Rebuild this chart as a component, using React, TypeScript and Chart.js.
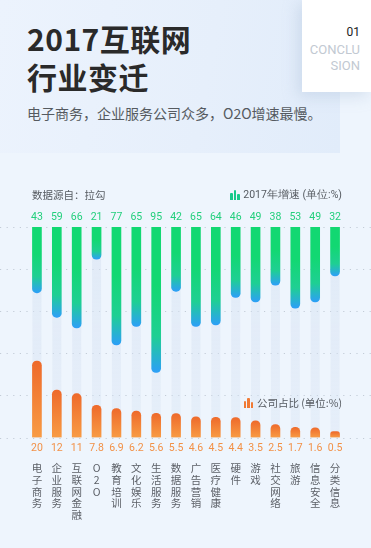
import React, { useEffect, useRef } from 'react';
import { Chart, registerables } from 'chart.js';

Chart.register(...registerables);

// ---------- data ----------
const categories = [
  '电子商务', '企业服务', '互联网金融', 'O2O', '教育培训', '文化娱乐', '生活服务', '数据服务',
  '广告营销', '医疗健康', '硬件', '游戏', '社交网络', '旅游', '信息安全', '分类信息',
];
const growth2017 = [43, 59, 66, 21, 77, 65, 95, 42, 65, 64, 46, 49, 38, 53, 49, 32];
const companyShare = [20, 12, 11, 7.8, 6.9, 6.2, 5.6, 5.5, 4.6, 4.5, 4.4, 3.5, 2.5, 1.7, 1.6, 0.5];

const titleLines = ['2017互联网', '行业变迁'];
const subtitle = '电子商务，企业服务公司众多，O2O增速最慢。';
const sourceText = '数据源自：拉勾';
const growthLegend = '2017年增速 (单位:%)';
const shareLegend = '公司占比 (单位:%)';

// ---------- styles ----------
const GREEN_TOP = '#12d872';
const GREEN_MID = '#1fcf93';
const BLUE_END = '#2d9ff7';
const ORANGE_TOP = '#ee6a2b';
const ORANGE_BOTTOM = '#f89b44';
const CJK = '"Noto Sans CJK SC", "Noto Sans", sans-serif';
const NUM = 'Roboto, "Noto Sans", sans-serif';

const backdropPlugin = {
  id: 'backdrop',
  beforeDatasetsDraw(chart: any) {
    const { ctx, chartArea } = chart;
    const x = chart.scales.x;
    const h = chartArea.bottom - chartArea.top;
    ctx.save();
    // dotted grid lines across full width
    ctx.strokeStyle = '#c3ccd7';
    ctx.lineWidth = 1;
    ctx.setLineDash([1.2, 5.4]);
    for (let i = 0; i <= 5; i++) {
      const y = Math.round(chartArea.top + (i * h) / 5) + 0.5;
      ctx.beginPath();
      ctx.moveTo(0, y);
      ctx.lineTo(chart.width, y);
      ctx.stroke();
    }
    ctx.setLineDash([]);
    // pale tracks
    for (let i = 0; i < categories.length; i++) {
      const cx = x.getPixelForValue(i);
      const g = ctx.createLinearGradient(0, chartArea.top, 0, chartArea.bottom);
      g.addColorStop(0, 'rgba(214,226,242,0.55)');
      g.addColorStop(1, 'rgba(214,226,242,0.35)');
      ctx.fillStyle = g;
      ctx.fillRect(cx - 4.5, chartArea.top, 9, h);
    }
    ctx.restore();
  },
};

const valueLabelPlugin = {
  id: 'valueLabels',
  afterDatasetsDraw(chart: any) {
    const { ctx, chartArea } = chart;
    const x = chart.scales.x;
    ctx.save();
    ctx.font = `10.5px ${NUM}`;
    ctx.textAlign = 'center';
    ctx.textBaseline = 'middle';
    growth2017.forEach((v, i) => {
      ctx.fillStyle = '#22cf7c';
      ctx.fillText(String(v), x.getPixelForValue(i), chartArea.top - 9.5);
    });
    companyShare.forEach((v, i) => {
      ctx.fillStyle = '#f29147';
      ctx.fillText(String(v), x.getPixelForValue(i), chartArea.bottom + 10.5);
    });
    ctx.restore();
  },
};

function LegendIcon({ color }: { color: string }) {
  const bar = (h: number) => (
    <span style={{ display: 'inline-block', width: 2.6, height: h, background: color, marginRight: 0.8, borderRadius: '1px 1px 0 0' }} />
  );
  return (
    <span style={{ display: 'inline-flex', alignItems: 'flex-end', height: 10, marginRight: 3 }}>
      {bar(7)}
      {bar(10)}
      {bar(6)}
    </span>
  );
}

export default function App() {
  const canvasRef = useRef<HTMLCanvasElement | null>(null);

  useEffect(() => {
    const canvas = canvasRef.current;
    if (!canvas) return;
    const chart = new Chart(canvas, {
      type: 'bar',
      data: {
        labels: categories,
        datasets: [
          {
            label: growthLegend,
            data: growth2017,
            yAxisID: 'yg',
            grouped: false,
            barThickness: 9,
            borderRadius: 4.5,
            borderSkipped: 'start',
            backgroundColor: (c: any) => {
              const ch = c.chart;
              const area = ch.chartArea;
              if (!area || c.raw == null) return GREEN_TOP;
              const end = ch.scales.yg.getPixelForValue(c.raw);
              const g = ch.ctx.createLinearGradient(0, area.top, 0, Math.max(end, area.top + 1));
              g.addColorStop(0, GREEN_TOP);
              g.addColorStop(0.4, GREEN_TOP);
              g.addColorStop(0.75, GREEN_MID);
              g.addColorStop(1, BLUE_END);
              return g;
            },
          } as any,
          {
            label: shareLegend,
            data: companyShare,
            yAxisID: 'yo',
            grouped: false,
            base: -1.1,
            barThickness: 9,
            borderRadius: 4.5,
            borderSkipped: 'start',
            backgroundColor: (c: any) => {
              const ch = c.chart;
              const area = ch.chartArea;
              if (!area || c.raw == null) return ORANGE_TOP;
              const top = ch.scales.yo.getPixelForValue(c.raw);
              const g = ch.ctx.createLinearGradient(0, top, 0, area.bottom);
              g.addColorStop(0, ORANGE_TOP);
              g.addColorStop(1, ORANGE_BOTTOM);
              return g;
            },
          } as any,
        ],
      },
      options: {
        responsive: false,
        animation: false,
        layout: { padding: { top: 47, left: 27, right: 26, bottom: 2 } },
        plugins: { legend: { display: false }, tooltip: { enabled: false } },
        scales: {
          x: {
            offset: true,
            grid: { display: false, drawTicks: false },
            border: { display: false },
            ticks: {
              autoSkip: false,
              maxRotation: 0,
              minRotation: 0,
              padding: 25,
              color: '#5b5f66',
              font: { family: CJK, size: 10.5, lineHeight: 11.7 / 10.5 },
              callback: (_v: any, i: number) => categories[i].split(''),
            },
          },
          yg: {
            type: 'linear',
            display: false,
            reverse: true,
            min: 0,
            max: 137.5,
          },
          yo: {
            type: 'linear',
            display: false,
            min: -1.1,
            max: 57,
          },
        },
      },
      plugins: [backdropPlugin, valueLabelPlugin],
    } as any);
    return () => chart.destroy();
  }, []);

  return (
    <div
      style={{
        position: 'absolute', left: 0, top: 0, width: 371, height: 548, overflow: 'hidden',
        background: '#eef5fd', fontFamily: CJK,
      }}
    >
      {/* header panel */}
      <div
        style={{
          position: 'absolute', left: 0, top: 0, width: 340, height: 153,
          background: 'linear-gradient(100deg, #ecf3fd 0%, #e6effb 60%, #e1ecfa 100%)',
        }}
      />
      {/* conclusion card */}
      <div
        style={{
          position: 'absolute', left: 302, top: 0, width: 69, height: 92, background: '#ffffff',
          boxShadow: '-4px 4px 14px rgba(160,180,210,0.35)',
        }}
      >
        <div style={{ position: 'absolute', right: 11, top: 24, fontFamily: NUM, fontSize: 12, color: '#222', lineHeight: '16px' }}>01</div>
        <div style={{ position: 'absolute', right: 11, top: 42, fontFamily: NUM, fontSize: 13, color: '#c2c9d2', lineHeight: '16px', textAlign: 'right' }}>
          CONCLU<br />SION
        </div>
      </div>
      {/* title */}
      <div style={{ position: 'absolute', left: 27, top: 19, fontSize: 30, fontWeight: 700, color: '#2a2a2a', lineHeight: '38px', letterSpacing: 0.5 }}>
        {titleLines[0]}<br />{titleLines[1]}
      </div>
      <div style={{ position: 'absolute', left: 27, top: 103, fontSize: 14, color: '#555a60', lineHeight: '20px', whiteSpace: 'nowrap' }}>
        {subtitle}
      </div>
      {/* chart */}
      <canvas ref={canvasRef} width={371} height={368} style={{ position: 'absolute', left: 0, top: 180, width: 371, height: 368 }} />
      {/* legends */}
      <div style={{ position: 'absolute', left: 32, top: 187, fontSize: 10.5, color: '#555a60', lineHeight: '16px' }}>{sourceText}</div>
      <div style={{ position: 'absolute', right: 29, top: 187, fontSize: 10.5, color: '#555a60', lineHeight: '16px', display: 'flex', alignItems: 'center' }}>
        <LegendIcon color="#16c98a" />
        <span style={{ fontFamily: NUM }}>{growthLegend}</span>
      </div>
      <div style={{ position: 'absolute', right: 29, top: 395, fontSize: 10.5, color: '#555a60', lineHeight: '16px', display: 'flex', alignItems: 'center' }}>
        <LegendIcon color="#f07a35" />
        <span>{shareLegend}</span>
      </div>
    </div>
  );
}
